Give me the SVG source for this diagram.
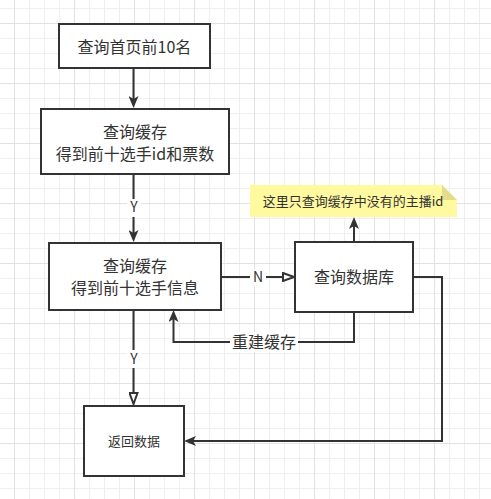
<svg xmlns="http://www.w3.org/2000/svg" width="491" height="499" viewBox="0 0 491 499">
<defs>
<pattern id="minor" patternUnits="userSpaceOnUse" x="14" y="8" width="15" height="15">
<path d="M0.5 0 V15 M0 0.5 H15" stroke="#efefef" stroke-width="1" fill="none"/>
</pattern>
<pattern id="major" patternUnits="userSpaceOnUse" x="14" y="23" width="60" height="60">
<path d="M0.5 0 V60 M0 0.5 H60" stroke="#e2e2e2" stroke-width="1" fill="none"/>
</pattern>
<marker id="arr" markerUnits="userSpaceOnUse" viewBox="0 0 12 10" refX="3" refY="5" markerWidth="12" markerHeight="10" orient="auto">
<path d="M0,0 L12,5 L0,10 L3,5 Z" fill="#333"/>
</marker>
<marker id="open" markerUnits="userSpaceOnUse" viewBox="0 0 13 10" refX="1" refY="5" markerWidth="13" markerHeight="10" orient="auto">
<path d="M1,1 L12,5 L1,9 Z" fill="#fff" stroke="#333" stroke-width="2"/>
</marker>
<style>
.box{fill:#fff;stroke:#333;stroke-width:2}
.t{font-family:"Noto Sans CJK SC","Microsoft YaHei",sans-serif;fill:#333;text-anchor:middle}
.f16{font-size:16px}
.f13{font-size:13px}
.f14{font-size:14px}
.e{fill:none;stroke:#333;stroke-width:2}
.lb{fill:#fff}
</style>
</defs>
<rect width="491" height="499" fill="#fff"/>
<rect width="491" height="499" fill="url(#minor)"/>
<rect width="491" height="499" fill="url(#major)"/>

<g id="connectors">
<path class="e" d="M133.5 69 V99" marker-end="url(#arr)"/>
<path class="e" d="M133.5 174 V233" marker-end="url(#arr)"/>
<rect class="lb" x="127" y="199" width="14" height="18"/>
<text class="t f14" x="134" y="212">Y</text>
<path class="e" d="M221 277 H283" marker-end="url(#open)"/>
<rect class="lb" x="250" y="269" width="16" height="17"/>
<text class="t f14" x="258" y="282">N</text>
<path class="e" d="M354 242 V226" marker-end="url(#arr)"/>
<path class="e" d="M354 312 V342 H173.5 V319" marker-end="url(#arr)"/>
<rect class="lb" x="230" y="332" width="68" height="20"/>
<text class="t f16" x="264" y="348">重建缓存</text>
<path class="e" d="M133.5 310 V393" marker-end="url(#open)"/>
<rect class="lb" x="127" y="350" width="14" height="18"/>
<text class="t f14" x="134" y="364">Y</text>
<path class="e" d="M413 277 H442 V441 H193" marker-end="url(#arr)"/>
</g>

<g id="n1">
<rect class="box" x="59" y="24" width="151" height="44"/>
<text class="t f16" x="134.5" y="53">查询首页前10名</text>
</g>
<g id="n2">
<rect class="box" x="41" y="109" width="188" height="65"/>
<text class="t f16" x="135" y="138">查询缓存</text>
<text class="t f16" x="135" y="160">得到前十选手id和票数</text>
</g>
<g id="n3">
<rect class="box" x="49" y="243" width="172" height="67"/>
<text class="t f16" x="135" y="272">查询缓存</text>
<text class="t f16" x="135" y="294">得到前十选手信息</text>
</g>
<g id="n4">
<rect class="box" x="295" y="242" width="118" height="70"/>
<text class="t f16" x="354" y="283">查询数据库</text>
</g>
<g id="n5">
<rect class="box" x="84" y="406" width="100" height="70"/>
<text class="t f13" x="134" y="446">返回数据</text>
</g>
<g id="note">
<polygon points="250,185 442,185 457,200 457,217 250,217" fill="#fff9a0"/>
<polygon points="442,185 442,200 457,200" fill="#e3dc8c"/>
<text class="t f13" x="353" y="206">这里只查询缓存中没有的主播id</text>
</g>
</svg>
